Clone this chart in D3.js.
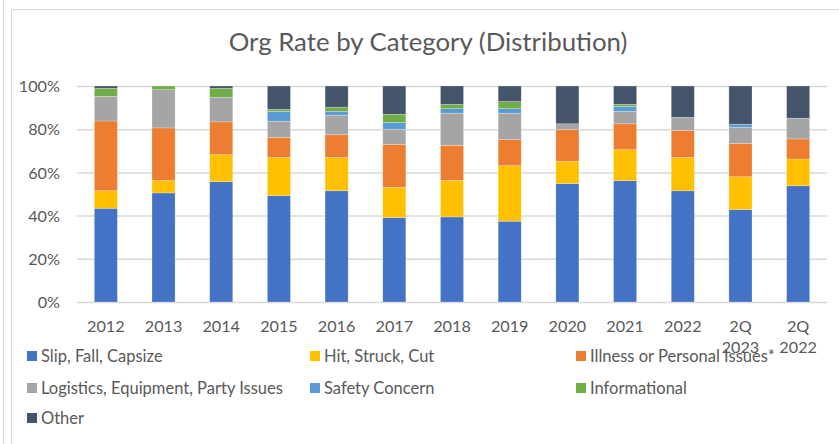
<!DOCTYPE html>
<html>
<head>
<meta charset="utf-8">
<script src="https://d3js.org/d3.v7.min.js"></script>
<style>
body { margin:0; background:#fff; }
#chart text { font-family: Lato, "Open Sans", sans-serif; fill:#595959; }
</style>
</head>
<body>
<div id="chart"></div>
<script>
// x labels (the 2Q ones wrap onto two lines)
var years = ["2012","2013","2014","2015","2016","2017","2018","2019","2020","2021","2022","2Q 2023","2Q 2022"];
// shares per category, in %
var slip      = [43.4, 50.5, 55.7, 49.2, 51.5, 39.1, 39.4, 37.4, 54.8, 56.2, 51.5, 42.8, 53.8];
var hit       = [ 8.1,  5.7, 12.5, 17.7, 15.4, 14.0, 16.9, 25.7, 10.3, 14.3, 15.4, 15.2, 12.4];
var illness   = [32.3, 24.4, 15.2,  9.3, 10.5, 19.8, 16.2, 12.1, 14.7, 12.0, 12.5, 15.4,  9.3];
var logistics = [11.4, 17.7, 11.4,  7.5,  9.1,  7.1, 14.9, 12.2,  2.7,  5.7,  6.1,  7.5,  9.6];
var safety    = [ 0,    0,    0,    4.5,  1.8,  3.2,  2.1,  2.1,  0,    2.3,  0,    1.4,  0  ];
var info      = [ 3.7,  1.7,  4.1,  1.0,  1.9,  3.7,  2.0,  3.3,  0,    1.0,  0,    0,    0  ];
var other     = [ 1.1,  0,    1.1, 10.8,  9.8, 13.1,  8.5,  7.2, 17.5,  8.5, 14.5, 17.7, 14.9];

var seriesNames = ["Slip, Fall, Capsize", "Hit, Struck, Cut", "Illness or Personal Issues*",
	"Logistics, Equipment, Party Issues", "Safety Concern", "Informational", "Other"];
var seriesColors = ["#4472c4", "#ffc000", "#ed7d31", "#a5a5a5", "#5b9bd5", "#70ad47", "#44546a"];
var yTicks = [0, 20, 40, 60, 80, 100];

var allSeries = [slip, hit, illness, logistics, safety, info, other];
var rows = years.map(function(y, i){
	var r = {year: y};
	seriesNames.forEach(function(n, k){ r[n] = allSeries[k][i]; });
	return r;
});

var width = 839, height = 444;
var svg = d3.select("#chart").append("svg")
	.attr("width", width)
	.attr("height", height);

// chart frame lines
svg.append("line").attr("x1", 3.5).attr("x2", 3.5).attr("y1", 0).attr("y2", height)
	.attr("stroke", "#d9d9d9");
svg.append("path").attr("d", "M11.5," + height + "V9.5H" + width)
	.attr("fill", "none").attr("stroke", "#d9d9d9");

var plot = {left: 77, right: 827, top: 86, bottom: 302};

var x = d3.scaleBand()
	.domain(years)
	.range([plot.left, plot.right])
	.paddingInner(0.6)
	.paddingOuter(0.3);

var y = d3.scaleLinear()
	.domain([0, 100])
	.range([plot.bottom, plot.top]);

// title
svg.append("text")
	.attr("x", 428)
	.attr("y", 51)
	.attr("text-anchor", "middle")
	.style("font-size", "25.8px")
	.text("Org Rate by Category (Distribution)");

// gridlines + y labels
var yAxis = d3.axisLeft(y)
	.tickValues(yTicks)
	.tickSize(-(plot.right - plot.left))
	.tickPadding(17)
	.tickFormat(function(d){ return d + "%"; });

var gy = svg.append("g")
	.attr("transform", "translate(" + plot.left + ",0)")
	.call(yAxis);
gy.select(".domain").remove();
gy.selectAll(".tick line").attr("stroke", "#d9d9d9").attr("stroke-width", 1.5);
gy.selectAll(".tick text").style("font-size", "16.2px").attr("dy", "0.35em");

// stacked bars
var stack = d3.stack().keys(seriesNames);
var layers = stack(rows);

svg.append("g")
	.selectAll("g")
	.data(layers)
	.enter().append("g")
	.attr("fill", function(d, i){ return seriesColors[i]; })
	.selectAll("rect")
	.data(function(d){ return d; })
	.enter().append("rect")
	.attr("x", function(d){ return x(d.data.year); })
	.attr("width", x.bandwidth())
	.attr("y", function(d){ return y(d[1]); })
	.attr("height", function(d){ return y(d[0]) - y(d[1]); })
	.attr("stroke", "#ffffff")
	.attr("stroke-opacity", 0.4)
	.attr("stroke-width", 0.6);

// x labels
var xAxis = d3.axisBottom(x).tickSize(0).tickPadding(0);
var gx = svg.append("g")
	.attr("transform", "translate(0," + plot.bottom + ")")
	.call(xAxis);
gx.select(".domain").remove();
gx.selectAll(".tick text").each(function(d){
	var t = d3.select(this).text("").attr("y", 30).attr("dy", null).style("font-size", "16.2px");
	d.split(" ").forEach(function(part, i){
		t.append("tspan").attr("x", 0).attr("dy", i == 0 ? 0 : 21).text(part);
	});
});

// legend
var legendX = [27, 310, 576];
var legendY = [356, 388, 418];
var legend = svg.append("g")
	.selectAll("g")
	.data(seriesNames)
	.enter().append("g")
	.attr("transform", function(d, i){
		return "translate(" + legendX[i % 3] + "," + legendY[Math.floor(i / 3)] + ")";
	});
legend.append("rect")
	.attr("x", 0).attr("y", -5)
	.attr("width", 10).attr("height", 10)
	.attr("fill", function(d, i){ return seriesColors[i]; });
legend.append("text")
	.attr("x", 14)
	.attr("dy", "0.35em")
	.style("font-size", "16.5px")
	.text(function(d){ return d; });
</script>
</body>
</html>
